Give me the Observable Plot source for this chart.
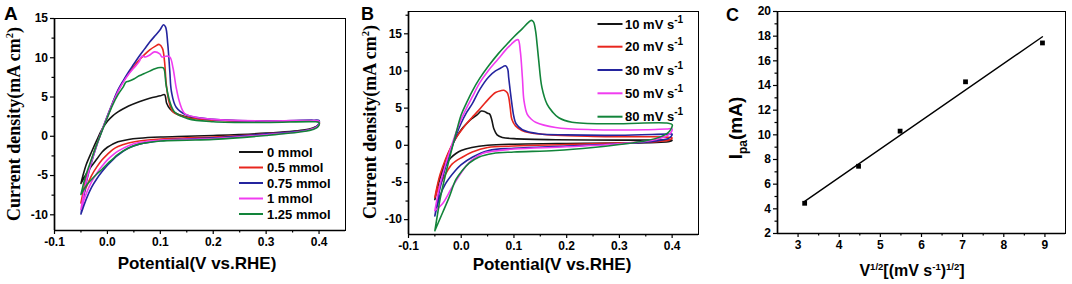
<!DOCTYPE html>
<html><head><meta charset="utf-8">
<script src="https://cdn.jsdelivr.net/npm/d3@7"></script>
<script src="https://cdn.jsdelivr.net/npm/@observablehq/plot@0.6"></script>
<style>
body{margin:0;background:#fff;}
#wrap{position:relative;width:1072px;height:284px;overflow:hidden;background:#fff;}
.panel{position:absolute;top:0;}
.panel svg text{font-family:"Liberation Sans",Arial,sans-serif !important;font-size:12px !important;font-weight:bold !important;fill:#000;}
#overlay{position:absolute;left:0;top:0;pointer-events:none;}
#overlay text{font-family:"Liberation Sans",Arial,sans-serif;font-weight:bold;fill:#000;}
</style></head>
<body>
<div id="wrap">
  <div id="pa" class="panel" style="left:0px"></div>
  <div id="pb" class="panel" style="left:357px"></div>
  <div id="pc" class="panel" style="left:715px"></div>
  <svg id="overlay" width="1072" height="284"></svg>
</div>
<script>
// ---------------- Panel A data: CV loops for additive amounts ----------------
const seriesA = ["0 mmol","0.5 mmol","0.75 mmol","1 mmol","1.25 mmol"];
const cvA_0 = [[-0.05,-6.0],[-0.045,-4.7],[-0.04,-3.6],[-0.03,-2.0],[-0.02,-0.5],[-0.01,0.9],[0.0,1.9],[0.01,2.6],[0.02,3.1],[0.03,3.5],[0.04,3.85],[0.06,4.4],[0.08,4.85],[0.1,5.15],[0.108,5.3],[0.112,4.2],[0.118,3.5],[0.127,3.0],[0.15,2.45],[0.2,2.1],[0.3,1.9],[0.39,1.95],[0.4,1.85],
  [0.398,1.4],[0.39,1.1],[0.37,0.8],[0.3,0.4],[0.2,0.1],[0.15,0.0],[0.1,-0.1],[0.06,-0.25],[0.04,-0.4],[0.02,-0.7],[0.01,-1.0],[0.0,-1.4],[-0.01,-2.0],[-0.02,-2.9],[-0.03,-3.8],[-0.04,-4.8],[-0.05,-6.0]];
const cvA_05 = [[-0.05,-8.5],[-0.045,-6.8],[-0.04,-5.3],[-0.03,-3.0],[-0.02,-1.0],[-0.01,0.8],[0.0,2.5],[0.01,4.2],[0.02,5.8],[0.03,7.0],[0.04,8.0],[0.05,8.9],[0.06,9.7],[0.07,10.4],[0.08,11.0],[0.09,11.45],[0.098,11.7],[0.104,11.2],[0.108,9.5],[0.111,6.8],[0.116,4.5],[0.123,3.2],[0.135,2.7],[0.15,2.4],[0.2,2.05],[0.3,1.9],[0.39,1.95],[0.4,1.85],
  [0.398,1.3],[0.39,1.0],[0.37,0.7],[0.3,0.3],[0.2,-0.1],[0.15,-0.2],[0.1,-0.35],[0.06,-0.6],[0.04,-0.85],[0.02,-1.3],[0.01,-1.7],[0.0,-2.3],[-0.01,-3.0],[-0.02,-3.9],[-0.03,-5.0],[-0.04,-6.5],[-0.05,-8.5]];
const cvA_075 = [[-0.05,-9.9],[-0.045,-7.8],[-0.04,-5.9],[-0.03,-3.3],[-0.02,-1.1],[-0.01,0.8],[0.0,2.6],[0.01,4.3],[0.02,5.9],[0.03,7.1],[0.04,8.2],[0.05,9.2],[0.06,10.2],[0.07,11.1],[0.08,12.0],[0.09,12.8],[0.1,13.6],[0.106,14.2],[0.11,13.9],[0.114,11.8],[0.118,8.2],[0.121,5.7],[0.13,3.7],[0.15,2.7],[0.2,2.15],[0.3,1.95],[0.39,2.05],[0.4,2.0],
  [0.398,1.4],[0.39,1.0],[0.37,0.7],[0.3,0.3],[0.2,-0.2],[0.15,-0.35],[0.1,-0.55],[0.06,-1.0],[0.04,-1.5],[0.02,-2.4],[0.01,-3.0],[0.0,-3.7],[-0.01,-4.5],[-0.02,-5.4],[-0.03,-6.5],[-0.04,-8.0],[-0.05,-9.9]];
const cvA_1 = [[-0.05,-9.3],[-0.045,-7.4],[-0.04,-5.7],[-0.03,-3.2],[-0.02,-1.1],[-0.01,0.8],[0.0,2.5],[0.01,4.2],[0.02,5.7],[0.03,6.9],[0.04,7.9],[0.05,8.7],[0.06,9.5],[0.065,10.2],[0.072,10.1],[0.08,10.35],[0.089,10.75],[0.099,10.5],[0.103,10.1],[0.11,10.2],[0.118,10.1],[0.124,8.7],[0.13,6.2],[0.137,4.2],[0.146,2.9],[0.165,2.45],[0.2,2.15],[0.3,1.95],[0.39,2.0],[0.4,1.9],
  [0.398,1.3],[0.39,1.0],[0.37,0.65],[0.3,0.2],[0.2,-0.3],[0.15,-0.4],[0.1,-0.5],[0.06,-0.8],[0.04,-1.2],[0.02,-1.9],[0.01,-2.4],[0.0,-3.0],[-0.01,-3.8],[-0.02,-4.7],[-0.03,-5.8],[-0.04,-7.3],[-0.05,-9.3]];
const cvA_125 = [[-0.05,-7.4],[-0.045,-6.0],[-0.04,-4.8],[-0.03,-2.9],[-0.02,-1.0],[-0.01,0.7],[0.0,2.4],[0.01,4.0],[0.02,5.3],[0.03,6.3],[0.035,6.9],[0.04,7.0],[0.05,7.3],[0.06,7.7],[0.07,8.0],[0.08,8.3],[0.09,8.6],[0.1,8.75],[0.106,8.7],[0.111,6.5],[0.118,4.4],[0.127,3.1],[0.152,2.25],[0.2,1.85],[0.3,1.75],[0.39,1.85],[0.4,1.75],
  [0.398,1.2],[0.39,0.9],[0.37,0.6],[0.3,0.1],[0.2,-0.4],[0.15,-0.5],[0.1,-0.6],[0.06,-1.0],[0.04,-1.5],[0.02,-2.3],[0.01,-2.9],[0.0,-3.5],[-0.01,-4.2],[-0.02,-4.8],[-0.03,-5.5],[-0.04,-6.3],[-0.05,-7.4]];

// ---------------- Panel B data: CV loops for scan rates ----------------
const seriesB = ["10 mV s-1","20 mV s-1","30 mV s-1","50 mV s-1","80 mV s-1"];
const cvB_10 = [[-0.05,-7.3],[-0.045,-5.6],[-0.04,-4.2],[-0.03,-2.1],[-0.02,-0.4],[-0.01,1.0],[0.0,2.1],[0.01,2.9],[0.02,3.6],[0.03,4.1],[0.038,4.6],[0.044,4.55],[0.05,4.3],[0.054,4.2],[0.058,3.4],[0.062,2.2],[0.068,1.4],[0.078,1.05],[0.1,0.9],[0.18,0.75],[0.3,0.7],[0.39,0.7],[0.4,0.7],
  [0.395,0.5],[0.37,0.4],[0.3,0.3],[0.2,0.25],[0.1,0.15],[0.05,0.0],[0.02,-0.3],[0.0,-0.7],[-0.01,-1.1],[-0.02,-1.7],[-0.03,-2.7],[-0.04,-4.4],[-0.05,-7.3]];
const cvB_20 = [[-0.05,-7.0],[-0.045,-5.3],[-0.04,-3.9],[-0.03,-1.9],[-0.02,-0.3],[-0.01,1.0],[0.0,2.0],[0.01,2.9],[0.02,3.7],[0.033,4.7],[0.052,6.25],[0.065,7.1],[0.075,7.35],[0.081,7.4],[0.087,7.1],[0.09,6.5],[0.093,5.0],[0.096,3.5],[0.103,2.6],[0.115,2.0],[0.13,1.7],[0.179,1.35],[0.25,1.2],[0.35,1.15],[0.39,1.1],[0.4,1.0],
  [0.395,0.7],[0.37,0.5],[0.3,0.3],[0.2,0.1],[0.1,-0.1],[0.05,-0.3],[0.021,-0.9],[0.002,-1.6],[-0.017,-2.5],[-0.03,-3.9],[-0.04,-5.3],[-0.05,-7.0]];
const cvB_30 = [[-0.05,-9.5],[-0.045,-7.5],[-0.04,-5.7],[-0.03,-3.0],[-0.02,-0.8],[-0.01,1.3],[0.0,3.0],[0.01,4.4],[0.021,5.6],[0.035,7.5],[0.052,9.2],[0.065,10.0],[0.075,10.4],[0.084,10.7],[0.088,10.3],[0.09,9.1],[0.093,7.3],[0.096,5.6],[0.1,3.8],[0.104,2.9],[0.116,2.1],[0.147,1.55],[0.2,1.4],[0.3,1.35],[0.39,1.5],[0.4,1.5],
  [0.395,1.0],[0.37,0.6],[0.3,0.2],[0.2,-0.1],[0.1,-0.4],[0.052,-0.7],[0.021,-1.6],[0.0,-2.6],[-0.011,-3.4],[-0.03,-5.2],[-0.04,-6.8],[-0.05,-9.5]];
const cvB_50 = [[-0.05,-8.8],[-0.045,-6.9],[-0.04,-5.2],[-0.03,-2.6],[-0.02,-0.4],[-0.01,1.7],[0.0,3.5],[0.01,5.0],[0.021,6.5],[0.035,8.4],[0.052,10.1],[0.07,11.6],[0.084,12.8],[0.095,13.6],[0.103,14.1],[0.108,14.2],[0.112,12.7],[0.116,9.1],[0.119,6.0],[0.125,4.2],[0.133,3.5],[0.141,3.1],[0.179,2.4],[0.25,2.1],[0.35,2.1],[0.39,2.2],[0.4,2.2],
  [0.395,1.5],[0.37,0.8],[0.3,0.2],[0.2,-0.2],[0.1,-0.5],[0.06,-0.8],[0.04,-1.1],[0.02,-2.0],[0.008,-2.9],[-0.017,-5.6],[-0.036,-7.9],[-0.05,-8.8]];
const cvB_80 = [[-0.05,-11.5],[-0.045,-9.3],[-0.04,-7.2],[-0.03,-4.0],[-0.02,-1.1],[-0.01,1.6],[0.0,4.1],[0.01,5.7],[0.021,7.3],[0.035,9.0],[0.052,10.7],[0.07,12.3],[0.084,13.4],[0.1,14.6],[0.116,15.7],[0.127,16.5],[0.133,16.8],[0.137,16.6],[0.141,15.4],[0.144,13.5],[0.147,11.4],[0.153,7.8],[0.163,5.5],[0.173,4.5],[0.185,3.7],[0.21,3.1],[0.286,2.9],[0.39,3.0],[0.4,2.8],
  [0.395,1.9],[0.38,1.2],[0.35,0.6],[0.3,0.1],[0.25,-0.3],[0.179,-0.7],[0.1,-0.9],[0.06,-1.1],[0.033,-1.6],[0.015,-2.4],[0.002,-3.4],[-0.01,-4.6],[-0.023,-7.0],[-0.035,-9.0],[-0.05,-11.5]];

// ---------------- Panel C data ----------------
const sqrtScanRate = [3.16, 4.47, 5.48, 7.07, 8.94];
const peakCurrent = [4.45, 7.45, 10.3, 14.3, 17.45];
const fitLineX = [3.16, 8.94];
const fitLineY = [4.6, 17.95];

// ---------------- ticks ----------------
const cvXTicks = [-0.1, 0.0, 0.1, 0.2, 0.3, 0.4];
const cvXMinor = [-0.05, 0.05, 0.15, 0.25, 0.35];
const cvYTicks = [-10, -5, 0, 5, 10, 15];
const cvYMinorA = [-7.5, -2.5, 2.5, 7.5, 12.5];
const cvYMinorB = [-7.5, -2.5, 2.5, 7.5, 12.5, 17.5];
const cXTicks = [3, 4, 5, 6, 7, 8, 9];
const cXMinor = [3.5, 4.5, 5.5, 6.5, 7.5, 8.5];
const cYTicks = [2, 4, 6, 8, 10, 12, 14, 16, 18, 20];
const cYMinor = [3, 5, 7, 9, 11, 13, 15, 17, 19];

const palette = ["#151515", "#e8261e", "#24249e", "#f03cf0", "#12843a"];

function rowsOf(names, curves) {
  return names.flatMap((n, k) => curves[k].map(([v, j], i) => ({series: n, v, j, i})));
}
const baseStyle = {fontFamily: '"Liberation Sans", Arial, sans-serif', fontSize: "12px", fontWeight: "bold", color: "#000", background: "transparent", overflow: "visible"};
const tickText = {fontSize: 12, fontWeight: "bold"};

function axesMarks(o) {
  return [
    Plot.axisX({ticks: o.xTicks, tickSize: 4, tickPadding: 3, tickFormat: o.xFmt, label: null, strokeWidth: 1.2, ...tickText}),
    Plot.axisX({ticks: o.xMinor, tickSize: 2.5, tickFormat: () => "", label: null, strokeWidth: 1.2}),
    Plot.axisY({ticks: o.yTicks, tickSize: 4, tickPadding: 2.5, tickFormat: d => String(d), label: null, strokeWidth: 1.2, ...tickText}),
    Plot.axisY({ticks: o.yMinor, tickSize: 2.5, tickFormat: () => "", label: null, strokeWidth: 1.2})
  ];
}
function frameMarks(o) {
  return [
    Plot.frame({stroke: "#000", strokeWidth: 1}),
    Plot.ruleX([o.xDomain[0]], {stroke: "#000", strokeWidth: 1.7}),
    Plot.ruleY([o.yDomain[0]], {stroke: "#000", strokeWidth: 1.7})
  ];
}

function cvPlot(o) {
  const rows = rowsOf(o.names, o.curves);
  return Plot.plot({
    width: o.width, height: 284,
    marginLeft: o.ml, marginRight: o.mr, marginTop: o.mt, marginBottom: o.mb,
    style: baseStyle,
    x: {domain: o.xDomain, label: null},
    y: {domain: o.yDomain, label: null},
    color: {domain: o.names, range: palette},
    marks: [
      ...axesMarks(o),
      Plot.line(rows, {x: "v", y: "j", z: "series", stroke: "series", curve: "catmull-rom", strokeWidth: 1.6}),
      ...frameMarks(o)
    ]
  });
}

const fmt1 = d => d.toFixed(1);
document.getElementById("pa").append(cvPlot({
  width: 357, ml: 54, mr: 12, mt: 18, mb: 54,
  xDomain: [-0.1, 0.45], yDomain: [-12, 15],
  xTicks: cvXTicks, xMinor: cvXMinor, yTicks: cvYTicks, yMinor: cvYMinorA, xFmt: fmt1,
  names: seriesA, curves: [cvA_0, cvA_05, cvA_075, cvA_1, cvA_125]
}));
document.getElementById("pb").append(cvPlot({
  width: 358, ml: 51, mr: 17, mt: 11, mb: 50,
  xDomain: [-0.1, 0.45], yDomain: [-12, 18],
  xTicks: cvXTicks, xMinor: cvXMinor, yTicks: cvYTicks, yMinor: cvYMinorB, xFmt: fmt1,
  names: seriesB, curves: [cvB_10, cvB_20, cvB_30, cvB_50, cvB_80]
}));

const pts = sqrtScanRate.map((x, i) => ({x, y: peakCurrent[i]}));
const fit = fitLineX.map((x, i) => ({x, y: fitLineY[i]}));
const oc = {xDomain: [2.5, 9.5], yDomain: [2, 20], xTicks: cXTicks, xMinor: cXMinor, yTicks: cYTicks, yMinor: cYMinor, xFmt: d => String(d)};
document.getElementById("pc").append(Plot.plot({
  width: 357, height: 284, marginLeft: 62, marginRight: 7, marginTop: 11, marginBottom: 51,
  style: baseStyle,
  x: {domain: oc.xDomain, label: null},
  y: {domain: oc.yDomain, label: null},
  marks: [
    ...axesMarks(oc),
    Plot.line(fit, {x: "x", y: "y", stroke: "#000", strokeWidth: 1.4}),
    Plot.dot(pts, {x: "x", y: "y", symbol: "square", fill: "#000", r: 2.7}),
    ...frameMarks(oc)
  ]
}));

// ---------------- overlay: titles, axis labels, legends ----------------
const ov = d3.select("#overlay");
function txt(x, y, parts, opts = {}) {
  const t = ov.append("text").attr("x", x).attr("y", y)
    .attr("font-size", opts.size || 13)
    .attr("text-anchor", opts.anchor || "start");
  if (opts.family) t.style("font-family", opts.family);
  if (opts.rotate) t.attr("transform", `rotate(-90 ${x} ${y})`);
  let shift = 0;
  parts.forEach(p => {
    const s = typeof p === "string" ? {t: p} : p;
    const ts = t.append("tspan").text(s.t);
    const target = s.sup ? -s.sup : s.sub ? s.sub : 0;
    if (target !== shift) { ts.attr("dy", target - shift); shift = target; }
    if (s.size) ts.attr("font-size", s.size);
  });
  return t;
}
// panel letters
txt(4, 19.5, ["A"], {size: 19});
txt(361, 20, ["B"], {size: 18});
txt(726, 20.7, ["C"], {size: 18});
// x labels
txt(197, 269, ["Potential(V vs.RHE)"], {size: 17, anchor: "middle"});
txt(552, 270, ["Potential(V vs.RHE)"], {size: 17, anchor: "middle"});
txt(912, 276, ["V", {t: "1/2", sup: 6, size: 9.5}, {t: "[(mV s", sup: 0}, {t: "-1", sup: 6, size: 9.5}, {t: ")", sup: 0}, {t: "1/2", sup: 6, size: 9.5}, {t: "]", sup: 0}], {size: 16, anchor: "middle"});
// y labels
const serif = '"Liberation Serif","Times New Roman",serif';
txt(20, 124, ["Current density(mA cm", {t: "2", sup: 7, size: 10.5}, {t: ")", sup: 0}], {size: 18, anchor: "middle", rotate: true, family: serif});
txt(376, 122, ["Current density(mA cm", {t: "2", sup: 7, size: 10.5}, {t: ")", sup: 0}], {size: 18, anchor: "middle", rotate: true, family: serif});
txt(742, 128, ["I", {t: "pa", sub: 5, size: 12}, {t: "(mA)", sub: 0}], {size: 19, anchor: "middle", rotate: true});

// legends
const legA = {x1: 239, x2: 263, tx: 267, ys: [152, 167.5, 183, 198.5, 214]};
seriesA.forEach((n, i) => {
  ov.append("line").attr("x1", legA.x1).attr("x2", legA.x2).attr("y1", legA.ys[i]).attr("y2", legA.ys[i]).attr("stroke", palette[i]).attr("stroke-width", 2);
  txt(legA.tx, legA.ys[i] + 4.6, [n], {size: 13});
});
const legB = {x1: 597.5, x2: 622.5, tx: 625, ys: [24, 46.7, 70, 93.3, 116.7]};
seriesB.forEach((n, i) => {
  ov.append("line").attr("x1", legB.x1).attr("x2", legB.x2).attr("y1", legB.ys[i]).attr("y2", legB.ys[i]).attr("stroke", palette[i]).attr("stroke-width", 2);
  const base = n.replace(/ s-1$/, " s");
  txt(legB.tx, legB.ys[i] + 4.6, [base, {t: "-1", sup: 6, size: 10}], {size: 13});
});
</script>
</body></html>
